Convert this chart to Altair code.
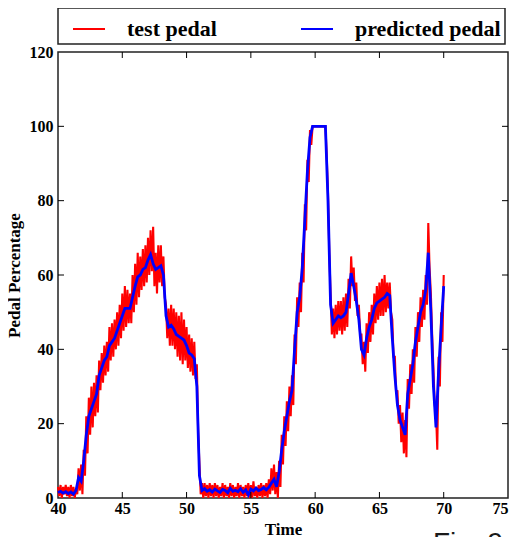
import altair as alt
import pandas as pd

# time grids
t_blue = [round(40 + 0.2 * i, 1) for i in range(151)]
t_red = [round(40 + 0.1 * i, 1) for i in range(301)]

blue = [
    1.5, 1.8, 1.3, 1.7, 1.2, 1.6, 1.0, 2.0, 5.5, 4.5,          # 40.0-41.8
    10, 17, 22, 24, 26, 28, 33, 35, 37, 38,                     # 42.0-43.8
    41, 42, 43, 45, 47, 49, 51, 51, 51, 54,                     # 44.0-45.8
    57, 59.5, 60, 61.5, 62, 64, 65.5, 63, 61.5, 62,             # 46.0-47.8
    62.5, 60, 49, 46, 46.5, 45.5, 44, 43.5, 43, 42.5,           # 48.0-49.8
    41, 39, 38.5, 37.5, 30, 6, 2, 2.5, 1.8, 2.2,                # 50.0-51.8
    1.6, 2.4, 1.9, 1.5, 2.3, 2.0, 1.4, 2.6, 1.8, 2.1,           # 52.0-53.8
    1.7, 2.5, 1.5, 2.2, 0.8, 2.4, 1.9, 2.7, 2.0, 2.3,           # 54.0-55.8
    2.8, 2.2, 2.9, 4, 5, 3, 7, 13, 18, 22,                      # 56.0-57.8
    26, 29, 40, 50, 54, 62, 75, 88, 97, 100,                    # 58.0-59.8
    100, 100, 100, 100, 100, 80, 52, 47, 48, 49,                # 60.0-61.8
    48.5, 49, 50, 55, 60.5, 57, 53, 48, 40, 38.5,               # 62.0-63.8
    43, 46, 48, 51, 52.5, 53, 53.5, 54, 55, 54.5,               # 64.0-65.8
    43, 33, 25, 21, 19, 17, 28, 32, 36, 42,                     # 66.0-67.8
    46, 50, 52, 56, 66, 50, 30, 19, 34, 46,                     # 68.0-69.8
    57,                                                         # 70.0
]

red = [
    3, 0.5, 3.5, 0, 3, 1, 3.5, 0.5, 3, 0,                       # 40
    3.5, 0.5, 3, 0, 2.5, 1, 8, 2, 9, 1,                         # 41
    13, 6, 22, 12, 27, 17, 30, 19, 31, 22,                      # 42
    33, 23, 37, 29, 39, 31, 41, 33, 42, 34,                     # 43
    46, 37, 47, 38, 48, 40, 50, 41, 52, 43,                     # 44
    55, 45, 57, 46, 56, 47, 55, 47, 60, 50,                     # 45
    63, 52, 66, 54, 65, 56, 67, 57, 68, 58,                     # 46
    70, 60, 72, 61, 73, 57, 66, 55, 68, 58,                     # 47
    68, 57, 65, 54, 52, 43, 51, 41, 52, 41,                     # 48
    51, 40, 50, 38, 49, 37, 50, 36, 48, 37,                     # 49
    46, 35, 44, 34, 43, 33, 42, 32, 36, 18,                     # 50
    9, 1, 4, 0, 4, 0.5, 3.5, 0, 4, 0.5,                         # 51
    3.5, 0, 4, 0.5, 3.5, 0, 3, 0.5, 4, 0,                       # 52
    3.5, 0.5, 3, 0, 4, 0.5, 3.5, 0, 3, 0.5,                     # 53
    4, 0, 3.5, 0.5, 3, 0, 3.5, 0.5, 4, 0,                       # 54
    3.5, 0, 4.5, 0.5, 3, 0, 3.5, 0.5, 4, 0,                     # 55
    3.5, 0.5, 4, 0, 5, 1, 8, 2, 9, 1,                           # 56
    7, 0, 10, 3, 17, 9, 22, 14, 26, 18,                         # 57
    30, 22, 33, 25, 44, 36, 54, 46, 58, 50,                     # 58
    66, 58, 79, 72, 91, 85, 99, 95, 100, 100,                   # 59
    100, 100, 100, 100, 100, 100, 100, 100, 100, 92,            # 60
    82, 66, 55, 44, 51, 43, 52, 44, 53, 45,                     # 61
    53, 44, 54, 45, 55, 46, 59, 51, 65, 57,                     # 62
    62, 53, 58, 49, 52, 44, 44, 36, 42, 34,                     # 63
    47, 39, 50, 42, 52, 44, 55, 47, 57, 48,                     # 64
    58, 49, 59, 49, 60, 50, 58, 51, 58, 50,                     # 65
    48, 38, 38, 28, 29, 20, 25, 15, 23, 12,                     # 66
    21, 11, 32, 24, 36, 28, 40, 31, 46, 38,                     # 67
    50, 42, 54, 46, 56, 48, 60, 52, 74, 62,                     # 68
    55, 44, 35, 25, 23, 13, 38, 30, 50, 42,                     # 69
    60,                                                         # 70
]

series_names = ["test pedal", "predicted pedal"]
series_colors = ["#ff0000", "#0000ff"]
x_ticks = [40, 45, 50, 55, 60, 65, 70, 75]
y_ticks = [0, 20, 40, 60, 80, 100, 120]
x_inner_ticks = [45, 50, 55, 60, 65, 70]
y_inner_ticks = [20, 40, 60, 80, 100]

W, H = 450, 446
TL = 6
FONT = "Liberation Serif"

df_red = pd.DataFrame({"Time": t_red, "value": red, "series": series_names[0]})
df_blue = pd.DataFrame({"Time": t_blue, "value": blue, "series": series_names[1]})

xscale = alt.Scale(domain=[40, 75], nice=False, zero=False)
yscale = alt.Scale(domain=[0, 120], nice=False)
color = alt.Color(
    "series:N",
    scale=alt.Scale(domain=series_names, range=series_colors),
    legend=alt.Legend(
        title=None, orient="none", legendX=0, legendY=-44, direction="horizontal",
        columns=2, columnPadding=73, symbolType="stroke", symbolSize=1024,
        symbolStrokeWidth=2, symbolOffset=10, labelOffset=21, padding=4,
        labelFont=FONT, labelFontSize=22, labelFontWeight="bold", labelColor="black",
        strokeColor="#222", labelLimit=300,
    ),
)

xaxis = alt.Axis(values=x_ticks, tickSize=0, domain=False, grid=False, labelPadding=2,
                 labelFlush=False,
                 labelAlign={"condition": {"test": "datum.value >= 75", "value": "right"},
                             "value": "center"},
                 labelFont=FONT, labelFontSize=16, labelFontWeight="bold", labelColor="black",
                 title="Time", titleFont=FONT, titleFontSize=17, titleFontWeight="bold",
                 titleColor="black", titlePadding=5)
yaxis = alt.Axis(values=y_ticks, tickSize=0, domain=False, grid=False, labelPadding=5,
                 labelFlush=False,
                 labelFont=FONT, labelFontSize=16, labelFontWeight="bold", labelColor="black",
                 title="Pedal Percentage", titleFont=FONT, titleFontSize=17,
                 titleFontWeight="bold", titleColor="black", titlePadding=6)

red_line = alt.Chart(df_red).mark_line(strokeWidth=2.1).encode(
    x=alt.X("Time:Q", scale=xscale, axis=xaxis),
    y=alt.Y("value:Q", scale=yscale, axis=yaxis),
    color=color,
)
blue_line = alt.Chart(df_blue).mark_line(strokeWidth=2.8).encode(
    x=alt.X("Time:Q", scale=xscale),
    y=alt.Y("value:Q", scale=yscale),
    color=color,
)

xt = pd.DataFrame({"tick": x_inner_ticks})
yt = pd.DataFrame({"tick": y_inner_ticks})
tick_style = dict(color="black", strokeWidth=1)
bottom_ticks = alt.Chart(xt).mark_rule(**tick_style).encode(
    x=alt.X("tick:Q", scale=xscale), y=alt.value(H), y2=alt.value(H - TL))
top_ticks = alt.Chart(xt).mark_rule(**tick_style).encode(
    x=alt.X("tick:Q", scale=xscale), y=alt.value(0), y2=alt.value(TL))
left_ticks = alt.Chart(yt).mark_rule(**tick_style).encode(
    y=alt.Y("tick:Q", scale=yscale), x=alt.value(0), x2=alt.value(TL))
right_ticks = alt.Chart(yt).mark_rule(**tick_style).encode(
    y=alt.Y("tick:Q", scale=yscale), x=alt.value(W), x2=alt.value(W - TL))

fig_label = alt.Chart(pd.DataFrame({"t": ["Fig. 9a"]})).mark_text(
    align="left", baseline="alphabetic", font="Liberation Sans", fontSize=28, color="#1a1a1a"
).encode(x=alt.value(375), y=alt.value(500), text="t:N")

chart = alt.layer(
    red_line, blue_line, bottom_ticks, top_ticks, left_ticks, right_ticks, fig_label
).properties(
    width=W, height=H,
    autosize=alt.AutoSizeParams(type="none"),
    padding={"left": 50, "top": 44, "right": 1, "bottom": 50},
).configure_view(stroke="#222", strokeWidth=1.5).configure_legend(strokeWidth=1.5)

chart.save("out.html", embed_options={"renderer": "svg", "actions": False})
